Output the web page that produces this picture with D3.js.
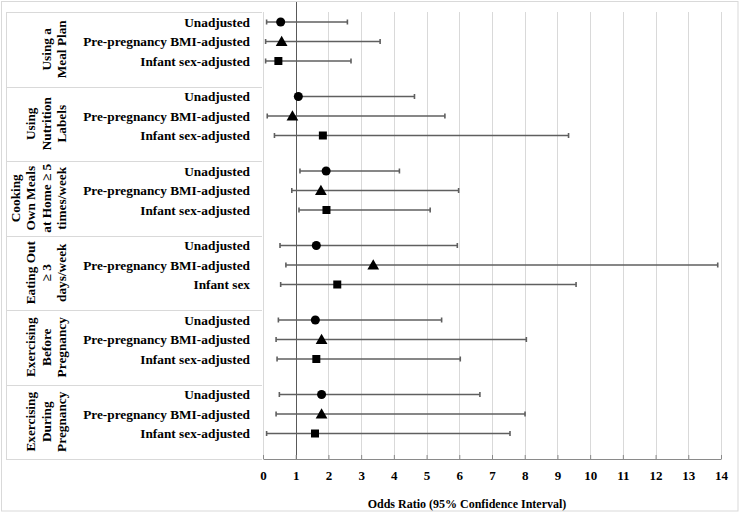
<!DOCTYPE html>
<html>
<head>
<meta charset="utf-8">
<script src="https://cdn.jsdelivr.net/npm/d3@7"></script>
<style>
  html, body { margin: 0; padding: 0; background: #fff; }
  svg { display: block; }
  text { font-family: "Liberation Serif", "Times New Roman", serif; font-weight: bold; fill: #000; }
</style>
</head>
<body>
<svg id="chart" width="740" height="513"></svg>
<script>
// ---- Data ----
const groups = [
  ["Using a", "Meal Plan"],
  ["Using", "Nutrition", "Labels"],
  ["Cooking", "Own Meals", "at Home \u2265 5", "times/week"],
  ["Eating Out", "\u2265 3", "days/week"],
  ["Exercising", "Before", "Pregnancy"],
  ["Exercising", "During", "Pregnancy"]
];
const rowLabels = [
  ["Unadjusted", "Pre-pregnancy BMI-adjusted", "Infant sex-adjusted"],
  ["Unadjusted", "Pre-pregnancy BMI-adjusted", "Infant sex-adjusted"],
  ["Unadjusted", "Pre-pregnancy BMI-adjusted", "Infant sex-adjusted"],
  ["Unadjusted", "Pre-pregnancy BMI-adjusted", "Infant sex"],
  ["Unadjusted", "Pre-pregnancy BMI-adjusted", "Infant sex-adjusted"],
  ["Unadjusted", "Pre-pregnancy BMI-adjusted", "Infant sex-adjusted"]
];
const markerTypes = ["circle", "triangle", "square"];
// odds ratio point estimates [group][row]
const oddsRatio = [
  [0.54, 0.57, 0.47],
  [1.08, 0.90, 1.83],
  [1.93, 1.77, 1.94],
  [1.63, 3.37, 2.27],
  [1.60, 1.79, 1.63],
  [1.79, 1.79, 1.59]
];
const ciLower = [
  [0.11, 0.08, 0.08],
  [1.02, 0.13, 0.35],
  [1.13, 0.88, 1.10],
  [0.52, 0.70, 0.54],
  [0.47, 0.40, 0.43],
  [0.50, 0.40, 0.11]
];
const ciUpper = [
  [2.58, 3.58, 2.69],
  [4.63, 5.56, 9.34],
  [4.17, 5.98, 5.11],
  [5.94, 13.90, 9.57],
  [5.46, 8.05, 6.03],
  [6.63, 8.01, 7.55]
];
const xTicks = d3.range(0, 15);
const xTitle = "Odds Ratio (95% Confidence Interval)";

// ---- Layout ----
const svg = d3.select("#chart");
const plotTop = 12, plotBottom = 459;
const tableLeft = 6, tableRight = 262;
const x = d3.scaleLinear().domain([0, 14]).range([263, 721]);
const yGroup = d3.scaleBand().domain(d3.range(groups.length)).range([plotTop, plotBottom]);
const yRow = d3.scalePoint().domain([0, 1, 2]).range([10, 49]);

const lightGrey = "#d9d9d9";
const barColor = "#5f5f5f";

// outer chart border
svg.append("rect").attr("x", 1.5).attr("y", 1.5).attr("width", 736.5).attr("height", 509.5)
  .attr("fill", "none").attr("stroke", lightGrey).attr("stroke-width", 1);

// gridlines
svg.append("g").selectAll("line").data(xTicks.filter(d => d !== 1)).join("line")
  .attr("x1", d => Math.round(x(d)) + 0.5).attr("x2", d => Math.round(x(d)) + 0.5)
  .attr("y1", plotTop).attr("y2", plotBottom)
  .attr("stroke", lightGrey).attr("stroke-width", 1);

// table lines
const tbl = svg.append("g");
tbl.append("line").attr("x1", tableLeft + 0.5).attr("x2", tableLeft + 0.5)
  .attr("y1", plotTop).attr("y2", plotBottom).attr("stroke", lightGrey);
const bounds = yGroup.domain().map(g => yGroup(g)).concat([plotBottom]);
tbl.selectAll("line.sep").data(bounds).join("line").attr("class", "sep")
  .attr("x1", tableLeft).attr("x2", tableRight)
  .attr("y1", d => Math.round(d) + 0.5).attr("y2", d => Math.round(d) + 0.5)
  .attr("stroke", lightGrey);

// reference line at OR = 1
svg.append("line")
  .attr("x1", Math.round(x(1)) + 0.5).attr("x2", Math.round(x(1)) + 0.5)
  .attr("y1", 2).attr("y2", plotBottom)
  .attr("stroke", "#595959").attr("stroke-width", 1);

// x axis
const axis = d3.axisBottom(x).tickValues(xTicks).tickFormat(d3.format("d"))
  .tickSizeInner(-4).tickSizeOuter(0).tickPadding(12);
const ax = svg.append("g").attr("transform", `translate(0,${plotBottom})`).call(axis);
ax.select(".domain").attr("stroke", "#8a8a8a").attr("stroke-width", 1.2);
ax.selectAll(".tick line").attr("stroke", "#8a8a8a");
ax.selectAll(".tick text").attr("font-family", "Liberation Serif, serif")
  .attr("font-weight", "bold").attr("font-size", 13).attr("fill", "#000");

// axis title
svg.append("text").attr("x", 467).attr("y", 508).attr("text-anchor", "middle")
  .attr("font-size", 12).text(xTitle);

// group labels (rotated)
groups.forEach((lines, g) => {
  const cy = yGroup(g) + yGroup.bandwidth() / 2;
  const n = lines.length;
  lines.forEach((ln, i) => {
    const bx = 66 - (n - 1 - i) * 15.5;
    svg.append("text")
      .attr("transform", `translate(${bx},${cy}) rotate(-90)`)
      .attr("text-anchor", "middle").attr("font-size", 13.3)
      .text(ln);
  });
});

// rows
const rows = [];
groups.forEach((_, g) => {
  rowLabels[g].forEach((lab, r) => {
    rows.push({
      g, r, label: lab, type: markerTypes[r],
      or: oddsRatio[g][r], lo: ciLower[g][r], hi: ciUpper[g][r],
      y: yGroup(g) + yRow(r)
    });
  });
});

// row labels
svg.append("g").selectAll("text").data(rows).join("text")
  .attr("x", 250).attr("y", d => d.y + 4.5)
  .attr("text-anchor", "end").attr("font-size", 13.3)
  .text(d => d.label);

// error bars
const eb = svg.append("g").attr("stroke", barColor).attr("stroke-width", 1.6);
eb.selectAll("line.bar").data(rows).join("line").attr("class", "bar")
  .attr("x1", d => x(d.lo)).attr("x2", d => x(d.hi))
  .attr("y1", d => d.y).attr("y2", d => d.y);
eb.selectAll("line.capl").data(rows).join("line").attr("class", "capl")
  .attr("x1", d => x(d.lo)).attr("x2", d => x(d.lo))
  .attr("y1", d => d.y - 2.5).attr("y2", d => d.y + 2.5);
eb.selectAll("line.caph").data(rows).join("line").attr("class", "caph")
  .attr("x1", d => x(d.hi)).attr("x2", d => x(d.hi))
  .attr("y1", d => d.y - 2.5).attr("y2", d => d.y + 2.5);

// markers
const sym = { circle: d3.symbolCircle, triangle: d3.symbolTriangle, square: d3.symbolSquare };
const size = { circle: 64, triangle: 60, square: 64 };
svg.append("g").selectAll("path").data(rows).join("path")
  .attr("transform", d => `translate(${x(d.or)},${d.y + (d.type === "triangle" ? 1 : 0)})`)
  .attr("d", d => d3.symbol().type(sym[d.type]).size(size[d.type])())
  .attr("fill", "#000");
</script>
</body>
</html>
